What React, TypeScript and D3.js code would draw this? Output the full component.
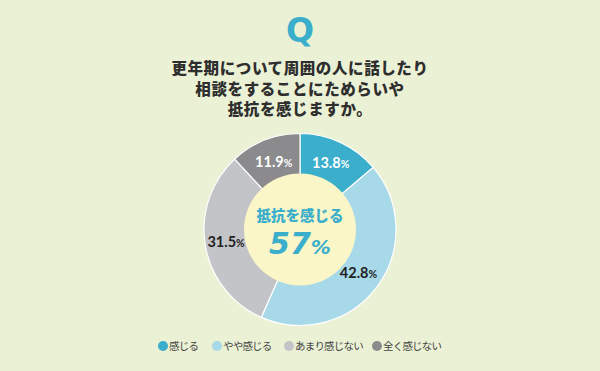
import React from "react";
import * as d3 from "d3";

const categories = ["感じる", "やや感じる", "あまり感じない", "全く感じない"];
const values = [13.8, 42.8, 31.5, 11.9];
const colors = ["#3aaecb", "#a8d9e8", "#c3c4c8", "#8b8b8d"];
const labelColors = ["#ffffff", "#222222", "#222222", "#ffffff"];
const titleLines = ["更年期について周囲の人に話したり", "相談をすることにためらいや", "抵抗を感じますか。"];
const centerLabel = "抵抗を感じる";
const centerValue = "57";
const legendX = [163, 217, 289, 377];

export default function App() {
  const W = 600, H = 371;
  const cx = 300, cy = 229.5;
  const outerR = 96, innerR = 56;
  const pie = d3.pie<number>().sort(null).value((d) => d);
  const arcs = pie(values);
  const arcGen = d3.arc<d3.PieArcDatum<number>>().innerRadius(innerR - 2).outerRadius(outerR);
  const labelR = [73, 73, 75, 72];
  const font = "Lato, 'Open Sans', sans-serif";
  const jp = "'Noto Sans CJK JP', sans-serif";
  return (
    <svg width={W} height={H} style={{ position: "absolute", left: 0, top: 0, display: "block" }}>
      <rect width={W} height={H} fill="#ebf1d4" />
      <text x={cx} y={42} textAnchor="middle" fill="#3aaecb" fontFamily="'DejaVu Sans', sans-serif" fontWeight={900} fontSize={33}>Q</text>
      {titleLines.map((t, i) => (
        <text key={i} x={cx} y={74 + i * 20.5} textAnchor="middle" fill="#2e2e2e" fontFamily={jp} fontWeight={900} fontSize={15.5} letterSpacing={0.6}>{t}</text>
      ))}
      <g transform={`translate(${cx},${cy})`}>
        {arcs.map((a, i) => (
          <path key={i} d={arcGen(a) || ""} fill={colors[i]} stroke="#ffffff" strokeWidth={1.2} />
        ))}
        <circle r={innerR} fill="#fbf6c8" />
        {arcs.map((a, i) => {
          const ang = (a.startAngle + a.endAngle) / 2;
          const x = Math.sin(ang) * labelR[i];
          const y = -Math.cos(ang) * labelR[i];
          return (
            <text key={i} x={x} y={y + 5} textAnchor="middle" fill={labelColors[i]} fontFamily={font} fontWeight={700} fontSize={14.5}>
              {values[i].toFixed(1)}<tspan fontSize={10.5}>%</tspan>
            </text>
          );
        })}
        <text x={0} y={-9} textAnchor="middle" fill="#3aaecb" fontFamily={jp} fontWeight={900} fontSize={14.5}>{centerLabel}</text>
        <text x={0} y={24} textAnchor="middle" fill="#3aaecb" fontFamily="'DejaVu Sans', sans-serif" fontWeight={900} fontStyle="italic" fontSize={30}>
          {centerValue}<tspan fontSize={20}>%</tspan>
        </text>
      </g>
      {categories.map((c, i) => (
        <g key={i}>
          <circle cx={legendX[i]} cy={346} r={5} fill={colors[i]} />
          <text x={legendX[i] + 6} y={350} fill="#444" fontFamily={jp} fontSize={10.5} letterSpacing={-0.8}>{c}</text>
        </g>
      ))}
    </svg>
  );
}
